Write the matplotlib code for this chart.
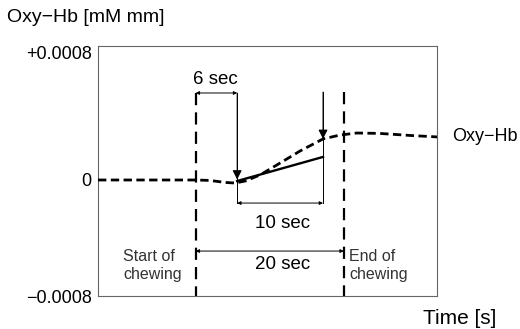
import matplotlib.pyplot as plt

plt.rcParams['font.family'] = ['Liberation Sans', 'DejaVu Sans']

time = [0, 7.0, 13.2, 15.1, 17.2, 18.5, 19.9, 21.9, 24.6, 27.3, 30.4, 32.7, 35.0, 38.1, 42.2, 45.8]
oxy_hb = [0.0, 0.0, 0.0, -0.000003, -0.000017, -0.000021, -0.000007, 0.000035,
          0.000117, 0.000200, 0.000283, 0.000310, 0.000324, 0.000321, 0.000307, 0.000297]

# linear fit from response onset to the marked point
slope_time = [18.8, 30.4]
slope_val = [-0.000007, 0.000159]

# event times
chew_start = 13.2
onset = 18.8
peak = 30.4
chew_end = 33.2
peak_val = 0.000283

y_ticks = [-0.0008, 0, 0.000924]
y_tick_labels = ['\u22120.0008', '0', '+0.0008']

fig = plt.figure(figsize=(5.2, 3.29), dpi=100)
ax = fig.add_axes([0.1885, 0.1003, 0.6519, 0.7599])
ax.set_xlim(0, 45.8)
ax.set_ylim(-0.0008, 0.000924)

for s in ax.spines.values():
    s.set_color('#666666')
    s.set_linewidth(0.8)

ax.set_xticks([])
ax.set_yticks(y_ticks)
ax.set_yticklabels(y_tick_labels, fontsize=13)
ax.tick_params(axis='y', length=0, pad=4.5)
ax.get_yticklabels()[2].set_va('top')

# the trace and the fitted slope
ax.plot(time, oxy_hb, color='black', lw=2.0, ls=(0, (3.0, 1.6)), zorder=3)
ax.plot(slope_time, slope_val, color='black', lw=1.7, zorder=3)

# start / end of chewing
top_a = 0.000600
top_b = 0.000607
ax.plot([chew_start, chew_start], [top_a, -0.0008], color='black', lw=1.6, ls=(0, (5.5, 3.2)))
ax.plot([chew_end, chew_end], [top_b, -0.0008], color='black', lw=1.6, ls=(0, (5.5, 3.2)))

# thin markers
lvl10 = -0.000159
lvl20 = -0.00049
ax.plot([onset, onset], [top_a, lvl10], color='black', lw=0.7)
ax.plot([peak, peak], [top_b, lvl10], color='black', lw=0.7)

down = dict(arrowstyle='-|>', lw=0.7, color='black', mutation_scale=14, shrinkA=0, shrinkB=0)
ax.annotate('', xy=(onset, slope_val[0] + 0.00001), xytext=(onset, top_a), arrowprops=down)
ax.annotate('', xy=(peak, peak_val), xytext=(peak, top_b), arrowprops=down)

both = dict(arrowstyle='<|-|>', lw=0.7, color='black', mutation_scale=5, shrinkA=0, shrinkB=0)
ax.annotate('', xy=(chew_start, top_a), xytext=(onset, top_a), arrowprops=both)
ax.annotate('', xy=(onset, lvl10), xytext=(peak, lvl10), arrowprops=both)
ax.annotate('', xy=(chew_start, lvl20), xytext=(chew_end, lvl20), arrowprops=both)

ax.text(15.8, 0.00069, '6 sec', fontsize=13.5, ha='center', va='center')
ax.text(25.0, -0.000297, '10 sec', fontsize=13.5, ha='center', va='center')
ax.text(25.0, -0.000586, '20 sec', fontsize=13.5, ha='center', va='center')
ax.text(3.4, -0.000593, 'Start of\nchewing', fontsize=11.5, color='#333333',
        ha='left', va='center', linespacing=1.25)
ax.text(33.9, -0.000593, 'End of\nchewing', fontsize=11.5, color='#333333',
        ha='left', va='center', linespacing=1.25)
ax.text(47.8, 0.000303, 'Oxy\u2212Hb', fontsize=13, ha='left', va='center', clip_on=False)

fig.text(7 / 520, 1 - 17 / 329, 'Oxy\u2212Hb [mM mm]', fontsize=14, ha='left', va='center')
fig.text(460 / 520, 1 - 319 / 329, 'Time [s]', fontsize=15, ha='center', va='center')

fig.savefig('out.png', dpi=100)
